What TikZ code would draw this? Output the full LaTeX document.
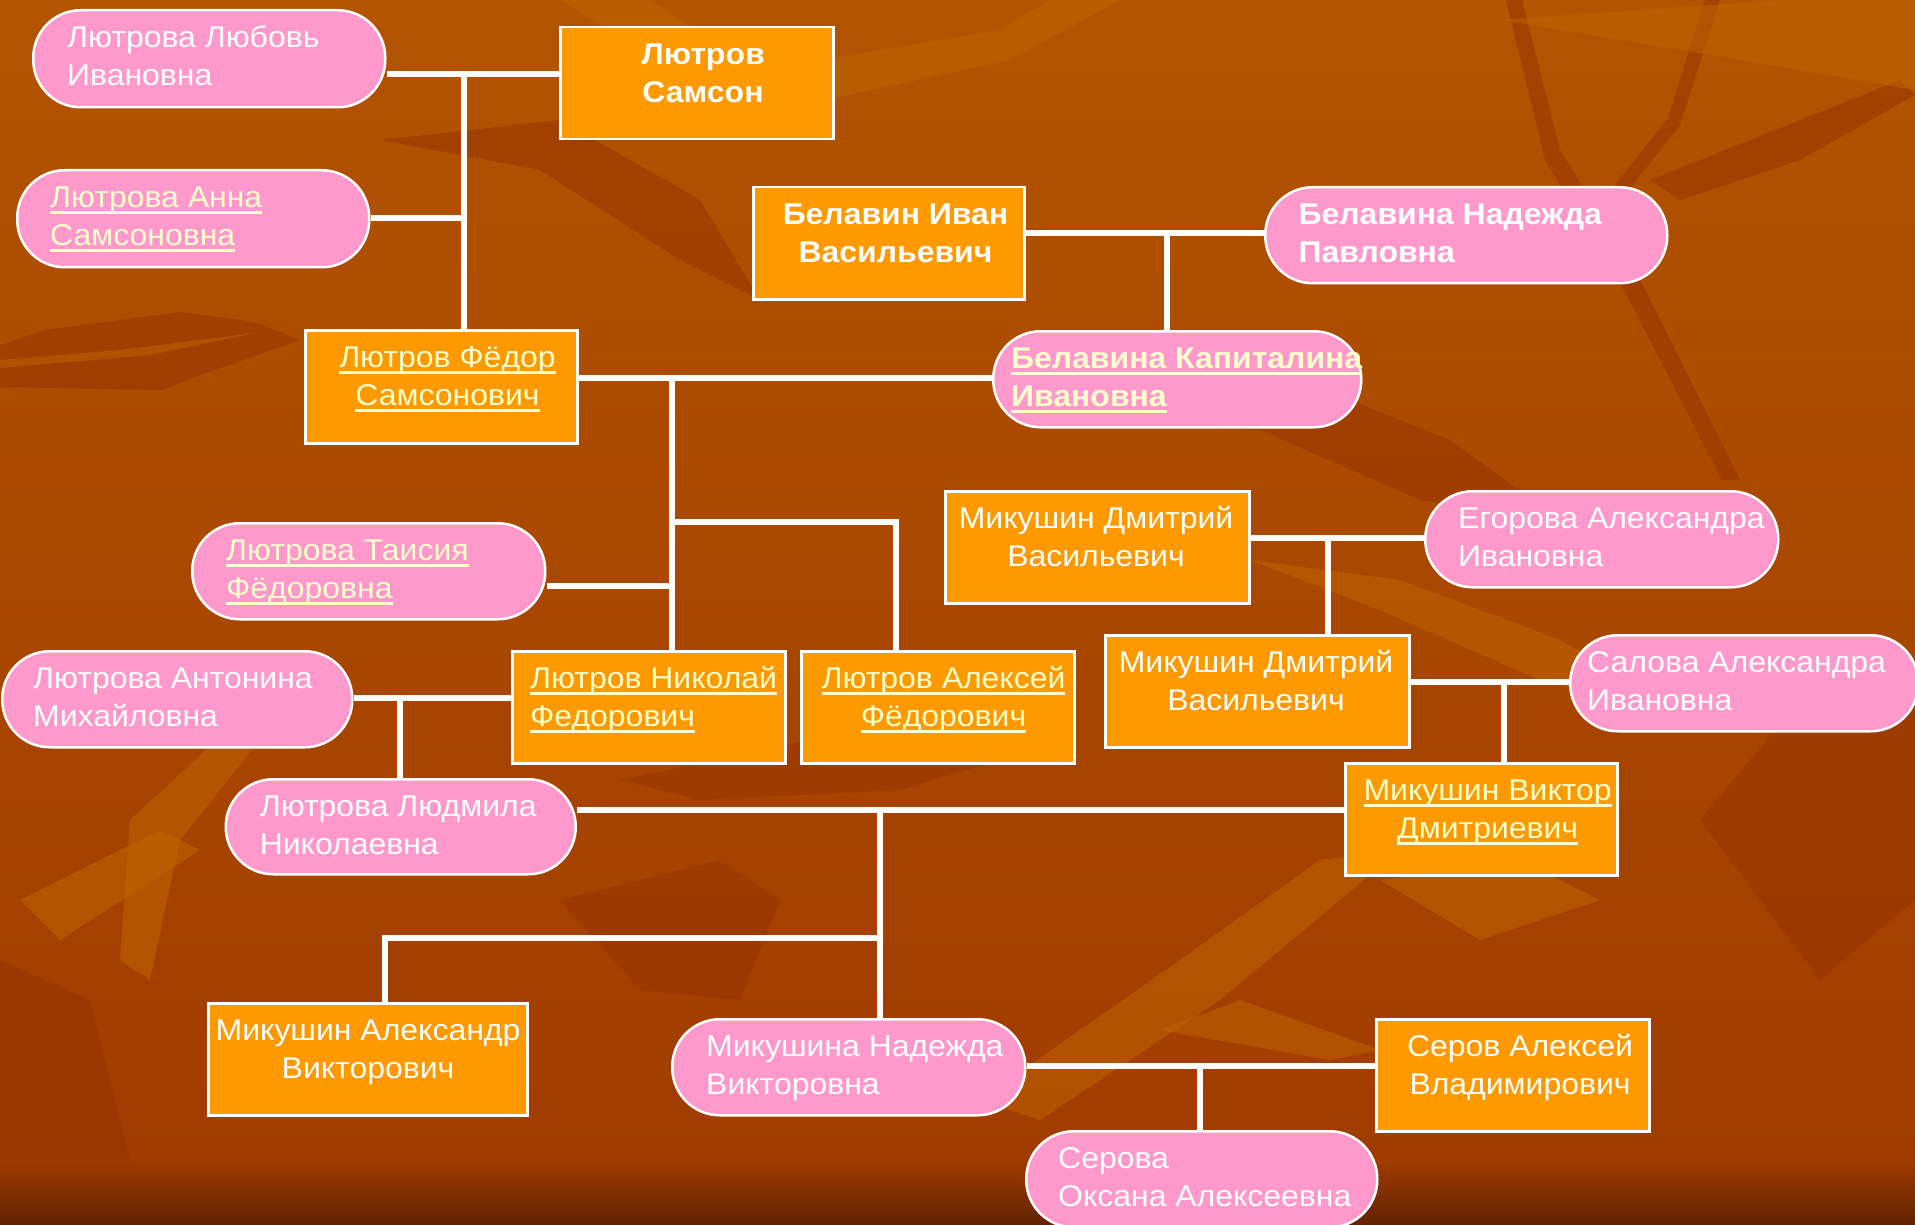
\documentclass[tikz,border=0pt]{standalone}
\usepackage{fontspec}
\setmainfont[FakeStretch=1.065]{Liberation Sans}
\newsavebox\ulbox
\newcommand\myul[1]{\sbox\ulbox{#1}\rlap{\usebox\ulbox}\rule[-6.6pt]{\wd\ulbox}{3.2pt}}
\usetikzlibrary{calc}
\pgfdeclarelayer{deco}
\pgfdeclarelayer{conn}
\pgfsetlayers{deco,conn,main}
\definecolor{bgtop}{RGB}{178,84,0}
\definecolor{bgmid}{RGB}{160,60,0}
\definecolor{bgbot}{RGB}{98,34,0}
\definecolor{pinkfill}{RGB}{255,153,204}
\definecolor{orangefill}{RGB}{255,153,0}
\definecolor{cream}{RGB}{255,255,204}
\definecolor{streakdark}{RGB}{150,52,0}
\definecolor{streaklight}{RGB}{192,102,0}
\newcommand\namefont{\fontsize{30}{37.7}\selectfont}
\tikzset{
  pinkbox/.style={draw=white, line width=2.5pt, fill=pinkfill, rounded corners=47.5pt, inner sep=0pt, anchor=north west},
  orangebox/.style={draw=white, line width=2.5pt, fill=orangefill, inner sep=0pt, anchor=north west},
  tl/.style={font=\namefont, text=white, inner sep=0pt, anchor=base west, align=left, yshift=-37.7pt},
  tc/.style={font=\namefont, text=white, inner sep=0pt, anchor=base, align=center, yshift=-37.7pt},
  bold/.style={font=\namefont\bfseries},
  link/.style={color=white, line width=5.5pt},
  dk/.style={fill=streakdark, opacity=0.55},
  lt/.style={fill=streaklight, opacity=0.5}
}
\begin{document}
\begin{tikzpicture}[x=1pt,y=-1pt]
\useasboundingbox (0,0) rectangle (1915,1225);
% background
\begin{pgfonlayer}{deco}
\shade[top color=bgtop, bottom color=bgmid] (0,0) rectangle (1915,1160);
\shade[top color=bgmid, bottom color=bgbot] (0,1159) rectangle (1915,1225);
\fill[dk] (0,345) -- (45,330) -- (180,312) -- (255,322) -- (300,340) -- (195,377) -- (163,390) -- (0,387) -- cycle;
\fill[lt] (0,360) -- (120,350) -- (255,333) -- (150,355) -- (0,368) -- cycle;
\fill[dk] (1506,0) -- (1522,0) -- (1560,150) -- (1640,280) -- (1740,480) -- (1722,480) -- (1625,292) -- (1545,160) -- cycle;
\fill[dk] (1705,0) -- (1720,0) -- (1680,125) -- (1625,195) -- (1535,250) -- (1525,240) -- (1615,185) -- (1668,118) -- cycle;
\fill[dk] (1650,180) -- (1900,80) -- (1915,95) -- (1800,160) -- (1680,200) -- cycle;
\fill[lt] (560,0) -- (650,0) -- (760,70) -- (1000,30) -- (1050,0) -- (1120,0) -- (1010,60) -- (780,110) -- (640,50) -- cycle;
\fill[lt] (1500,20) -- (1780,0) -- (1915,0) -- (1915,90) -- (1740,60) -- cycle;
\fill[dk] (380,140) -- (560,120) -- (700,200) -- (760,300) -- (680,260) -- (540,170) -- cycle;
\fill[dk] (1050,420) -- (1300,380) -- (1450,440) -- (1560,520) -- (1420,500) -- (1260,430) -- cycle;
\fill[lt] (1250,560) -- (1400,580) -- (1560,640) -- (1700,720) -- (1540,680) -- (1380,610) -- cycle;
\fill[lt] (130,820) -- (260,700) -- (300,690) -- (180,840) -- (150,980) -- (120,960) -- cycle;
\fill[lt] (20,900) -- (160,830) -- (200,850) -- (60,940) -- cycle;
\fill[dk] (620,780) -- (860,730) -- (1000,760) -- (900,790) -- (700,800) -- cycle;
\fill[dk] (560,900) -- (720,860) -- (780,900) -- (740,1000) -- (640,990) -- cycle;
\fill[lt] (980,1100) -- (1180,960) -- (1320,860) -- (1400,850) -- (1220,1000) -- (1040,1120) -- cycle;
\fill[lt] (1380,880) -- (1520,860) -- (1600,900) -- (1480,940) -- cycle;
\fill[dk] (1700,820) -- (1800,700) -- (1915,660) -- (1915,900) -- (1820,980) -- cycle;
\fill[dk] (0,960) -- (90,1000) -- (130,1160) -- (0,1160) -- cycle;
\fill[lt] (1160,1030) -- (1240,1000) -- (1380,1050) -- (1330,1060) -- cycle;
\end{pgfonlayer}

% boxes
\node[pinkbox, minimum width=352pt, minimum height=97pt] (lyubov) at (32,9) {};
\node[orangebox, minimum width=273pt, minimum height=112pt] (samson) at (559,26) {};
\node[pinkbox, minimum width=352pt, minimum height=97pt] (anna) at (16,169) {};
\node[orangebox, minimum width=272pt, minimum height=113pt] (fedor) at (304,329) {};
\node[orangebox, minimum width=271pt, minimum height=112pt] (ivan) at (752,186) {};
\node[pinkbox, minimum width=402pt, minimum height=96pt] (nadezhda) at (1264,186) {};
\node[pinkbox, minimum width=368pt, minimum height=96pt] (kapitalina) at (992,330) {};
\node[pinkbox, minimum width=353pt, minimum height=96pt] (taisia) at (191,522) {};
\node[pinkbox, minimum width=350pt, minimum height=96pt] (antonina) at (1,650) {};
\node[orangebox, minimum width=273pt, minimum height=112pt] (nikolay) at (511,650) {};
\node[orangebox, minimum width=273pt, minimum height=112pt] (aleksey) at (800,650) {};
\node[orangebox, minimum width=304pt, minimum height=112pt] (dmitryA) at (944,490) {};
\node[pinkbox, minimum width=353pt, minimum height=96pt] (egorova) at (1424,490) {};
\node[orangebox, minimum width=304pt, minimum height=112pt] (dmitryB) at (1104,634) {};
\node[pinkbox, minimum width=348pt, minimum height=96pt] (salova) at (1569,634) {};
\node[orangebox, minimum width=272pt, minimum height=112pt] (viktor) at (1344,762) {};
\node[pinkbox, minimum width=350pt, minimum height=95pt] (lyudmila) at (224.5,778) {};
\node[orangebox, minimum width=319pt, minimum height=112pt] (aleksandr) at (207,1002) {};
\node[pinkbox, minimum width=353pt, minimum height=96pt] (nadezhdaM) at (671,1018) {};
\node[orangebox, minimum width=273pt, minimum height=112pt] (serov) at (1375,1018) {};
\node[pinkbox, minimum width=351pt, minimum height=96pt] (serova) at (1025,1130) {};

% texts
\node[tl] (lyubov-t) at (67,47.5) {Лютрова Любовь\\Ивановна};
\node[tc, bold] (samson-t) at (703,64.5) {Лютров\\Самсон};
\node[tl, text=cream] (anna-t) at (50,207.5) {\myul{Лютрова Анна}\\\myul{Самсоновна}};
\node[tc, text=cream] (fedor-t) at (447.5,367.5) {\myul{Лютров Фёдор}\\\myul{Самсонович}};
\node[tc, bold] (ivan-t) at (895.5,224.5) {Белавин Иван\\Васильевич};
\node[tl, bold] (nadezhda-t) at (1298.5,224.5) {Белавина Надежда\\Павловна};
\node[tl, bold, text=cream] (kapitalina-t) at (1011,368.5) {\myul{Белавина Капиталина}\\\myul{Ивановна}};
\node[tl, text=cream] (taisia-t) at (226,560.5) {\myul{Лютрова Таисия}\\\myul{Фёдоровна}};
\node[tl] (antonina-t) at (33,688.5) {Лютрова Антонина\\Михайловна};
\node[tl, text=cream] (nikolay-t) at (530,688.5) {\myul{Лютров Николай}\\\myul{Федорович}};
\node[tc, text=cream] (aleksey-t) at (943.5,688.5) {\myul{Лютров Алексей}\\\myul{Фёдорович}};
\node[tc] (dmitryA-t) at (1096,528.5) {Микушин Дмитрий\\Васильевич};
\node[tl] (egorova-t) at (1458,528.5) {Егорова Александра\\Ивановна};
\node[tc] (dmitryB-t) at (1256,672.5) {Микушин Дмитрий\\Васильевич};
\node[tl] (salova-t) at (1587,672.5) {Салова Александра\\Ивановна};
\node[tc, text=cream] (viktor-t) at (1487.6,800.5) {\myul{Микушин Виктор}\\\myul{Дмитриевич}};
\node[tl] (lyudmila-t) at (259.6,816.5) {Лютрова Людмила\\Николаевна};
\node[tc] (aleksandr-t) at (368,1040.5) {Микушин Александр\\Викторович};
\node[tl] (nadezhdaM-t) at (706,1056.5) {Микушина Надежда\\Викторовна};
\node[tc] (serov-t) at (1520,1056.5) {Серов Алексей\\Владимирович};
\node[tl] (serova-t) at (1058,1168.5) {Серова\\Оксана Алексеевна};

% connectors
\coordinate (j1) at (464,74);
\coordinate (j1a) at (464,218);
\coordinate (j2) at (1167,233);
\coordinate (j3) at (672,378);
\coordinate (j3a) at (672,586);
\coordinate (j3b) at (672,522);
\coordinate (j3c) at (896,522);
\coordinate (j4) at (400,698);
\coordinate (j5) at (880,810);
\coordinate (j5b) at (880,938);
\coordinate (j5c) at (385,938);
\coordinate (j6) at (1328,538);
\coordinate (j7) at (1504,682);
\coordinate (j8) at (1200,1066);
\begin{pgfonlayer}{conn}
\draw[link] (lyubov.east |- j1) -- (samson.west |- j1);
\draw[link] (j1) -- (j1 |- fedor.north);
\draw[link] (anna.east |- j1a) -- (j1a);
\draw[link] (ivan.east |- j2) -- (nadezhda.west |- j2);
\draw[link] (j2) -- (j2 |- kapitalina.north);
\draw[link] (fedor.east |- j3) -- (kapitalina.west |- j3);
\draw[link] (j3) -- (j3 |- nikolay.north);
\draw[link] (taisia.east |- j3a) -- (j3a);
\draw[link] (j3b) -- (j3c) -- (j3c |- aleksey.north);
\draw[link] (antonina.east |- j4) -- (nikolay.west |- j4);
\draw[link] (j4) -- (j4 |- lyudmila.north);
\draw[link] (lyudmila.east |- j5) -- (viktor.west |- j5);
\draw[link] (j5) -- (j5 |- nadezhdaM.north);
\draw[link] (j5b) -- (j5c) -- (j5c |- aleksandr.north);
\draw[link] (dmitryA.east |- j6) -- (egorova.west |- j6);
\draw[link] (j6) -- (j6 |- dmitryB.north);
\draw[link] (dmitryB.east |- j7) -- (salova.west |- j7);
\draw[link] (j7) -- (j7 |- viktor.north);
\draw[link] (nadezhdaM.east |- j8) -- (serov.west |- j8);
\draw[link] (j8) -- (j8 |- serova.north);
\end{pgfonlayer}
\end{tikzpicture}
\end{document}
